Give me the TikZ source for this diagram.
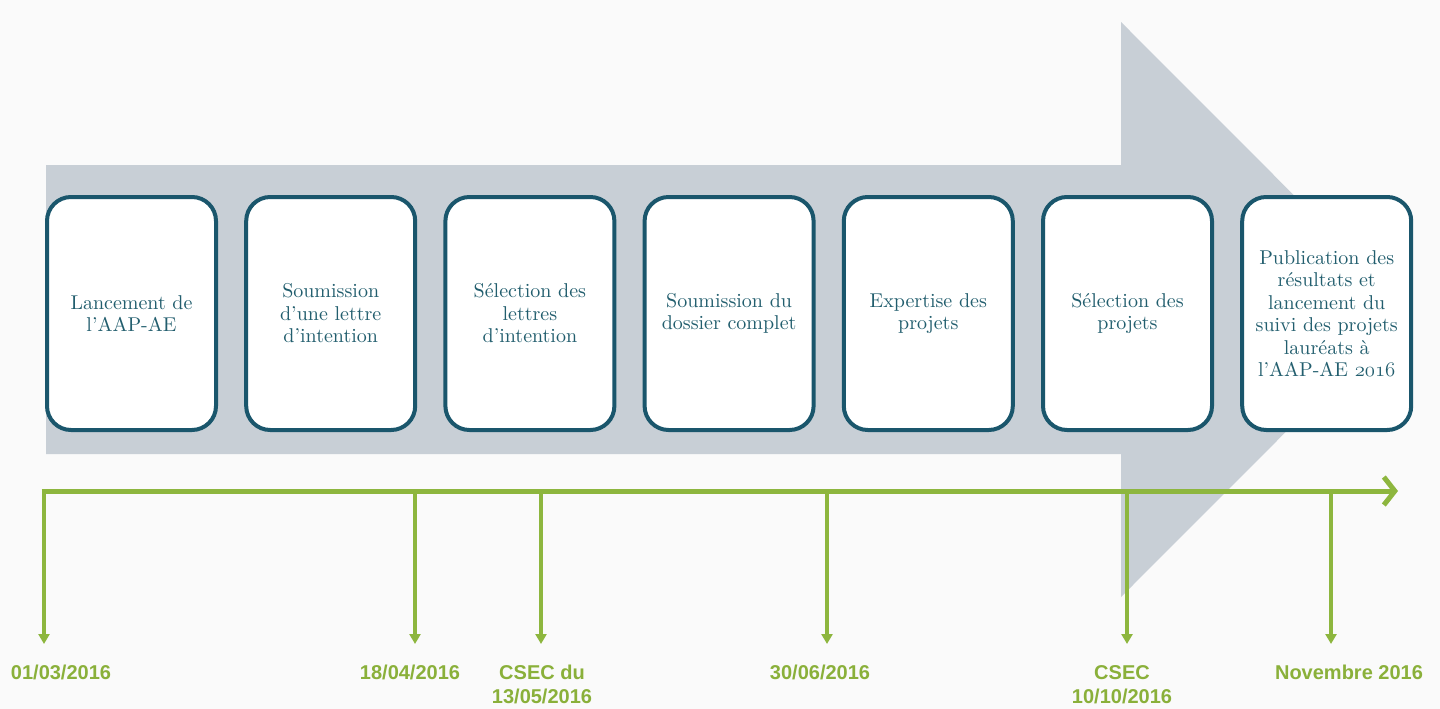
\documentclass[tikz,border=0pt]{standalone}
\usepackage{fontspec}
\newfontfamily\datefont{Liberation Sans}
\newfontfamily\boxfont{lmroman10-regular}[Extension=.otf]
\usetikzlibrary{arrows.meta}
\definecolor{bgcol}{RGB}{250,250,250}
\definecolor{arrowgray}{RGB}{200,207,214}
\definecolor{boxblue}{RGB}{26,86,108}
\definecolor{textteal}{RGB}{34,94,110}
\definecolor{tlgreen}{RGB}{141,182,62}
\definecolor{dategreen}{RGB}{138,176,58}
\newcommand{\osnum}[1]{$\mathnormal{#1}$}
\tikzset{
  stepbox/.style={draw=boxblue, line width=4pt, fill=white, rounded corners=24pt,
    minimum width=169pt, minimum height=233pt, inner sep=0pt, text width=166pt,
    align=center, text=textteal, font=\boxfont\fontsize{20}{22.5}\selectfont},
  datelabel/.style={anchor=north, inner sep=0pt, align=center, text=dategreen,
    font=\datefont\bfseries\fontsize{20}{24}\selectfont},
  timeline/.style={draw=tlgreen, line width=5pt, -{Straight Barb[length=11pt,width=28pt]}},
  dropline/.style={draw=tlgreen, line width=4pt, -{Triangle[width=11pt,length=10pt]}}
}
\begin{document}
\begin{tikzpicture}[x=1pt,y=-1pt]
\fill[bgcol] (0,0) rectangle (1440,709);
\useasboundingbox (0,0) rectangle (1440,709);
% big gray arrow
\fill[arrowgray] (46,165) -- (1121,165) -- (1121,22) -- (1408,309.5) -- (1121,597) -- (1121,454) -- (46,454) -- cycle;
% step boxes
\node[stepbox] (b1) at (131.5,313.5) {Lancement de\\ l’AAP-AE};
\node[stepbox] (b2) at (330.7,313.5) {Soumission\\ d’une lettre\\ d’intention};
\node[stepbox] (b3) at (529.9,313.5) {Sélection des\\ lettres\\ d’intention};
\node[stepbox] (b4) at (729.1,313.5) {Soumission du\\ dossier complet};
\node[stepbox] (b5) at (928.3,313.5) {Expertise des\\ projets};
\node[stepbox] (b6) at (1127.5,313.5) {Sélection des\\ projets};
\node[stepbox] (b7) at (1326.7,313.5) {Publication des\\ résultats et\\ lancement du\\ suivi des projets\\ lauréats à\\ l’AAP-AE \osnum{2016}};
% timeline
\coordinate (ts) at (41.5,491);
\coordinate (te) at (1398,491);
\coordinate (v1) at (44,491);
\coordinate (v2) at (415,491);
\coordinate (v3) at (541,491);
\coordinate (v4) at (827,491);
\coordinate (v5) at (1127,491);
\coordinate (v6) at (1331,491);
\coordinate (e1) at (44,644);
\coordinate (e2) at (415,644);
\coordinate (e3) at (541,644);
\coordinate (e4) at (827,644);
\coordinate (e5) at (1127,644);
\coordinate (e6) at (1331,644);
\draw[dropline] (v1) -- (e1);
\draw[dropline] (v2) -- (e2);
\draw[dropline] (v3) -- (e3);
\draw[dropline] (v4) -- (e4);
\draw[dropline] (v5) -- (e5);
\draw[dropline] (v6) -- (e6);
\draw[timeline] (ts) -- (te);
% dates
\node[datelabel] (d1) at (61,665) {01/03/2016};
\node[datelabel] (d2) at (410,665) {18/04/2016};
\node[datelabel] (d3) at (542,665) {CSEC du\\ 13/05/2016};
\node[datelabel] (d4) at (820,665) {30/06/2016};
\node[datelabel] (d5) at (1122,665) {CSEC\\ 10/10/2016};
\node[datelabel] (d6) at (1349,665) {Novembre 2016};
\end{tikzpicture}
\end{document}
